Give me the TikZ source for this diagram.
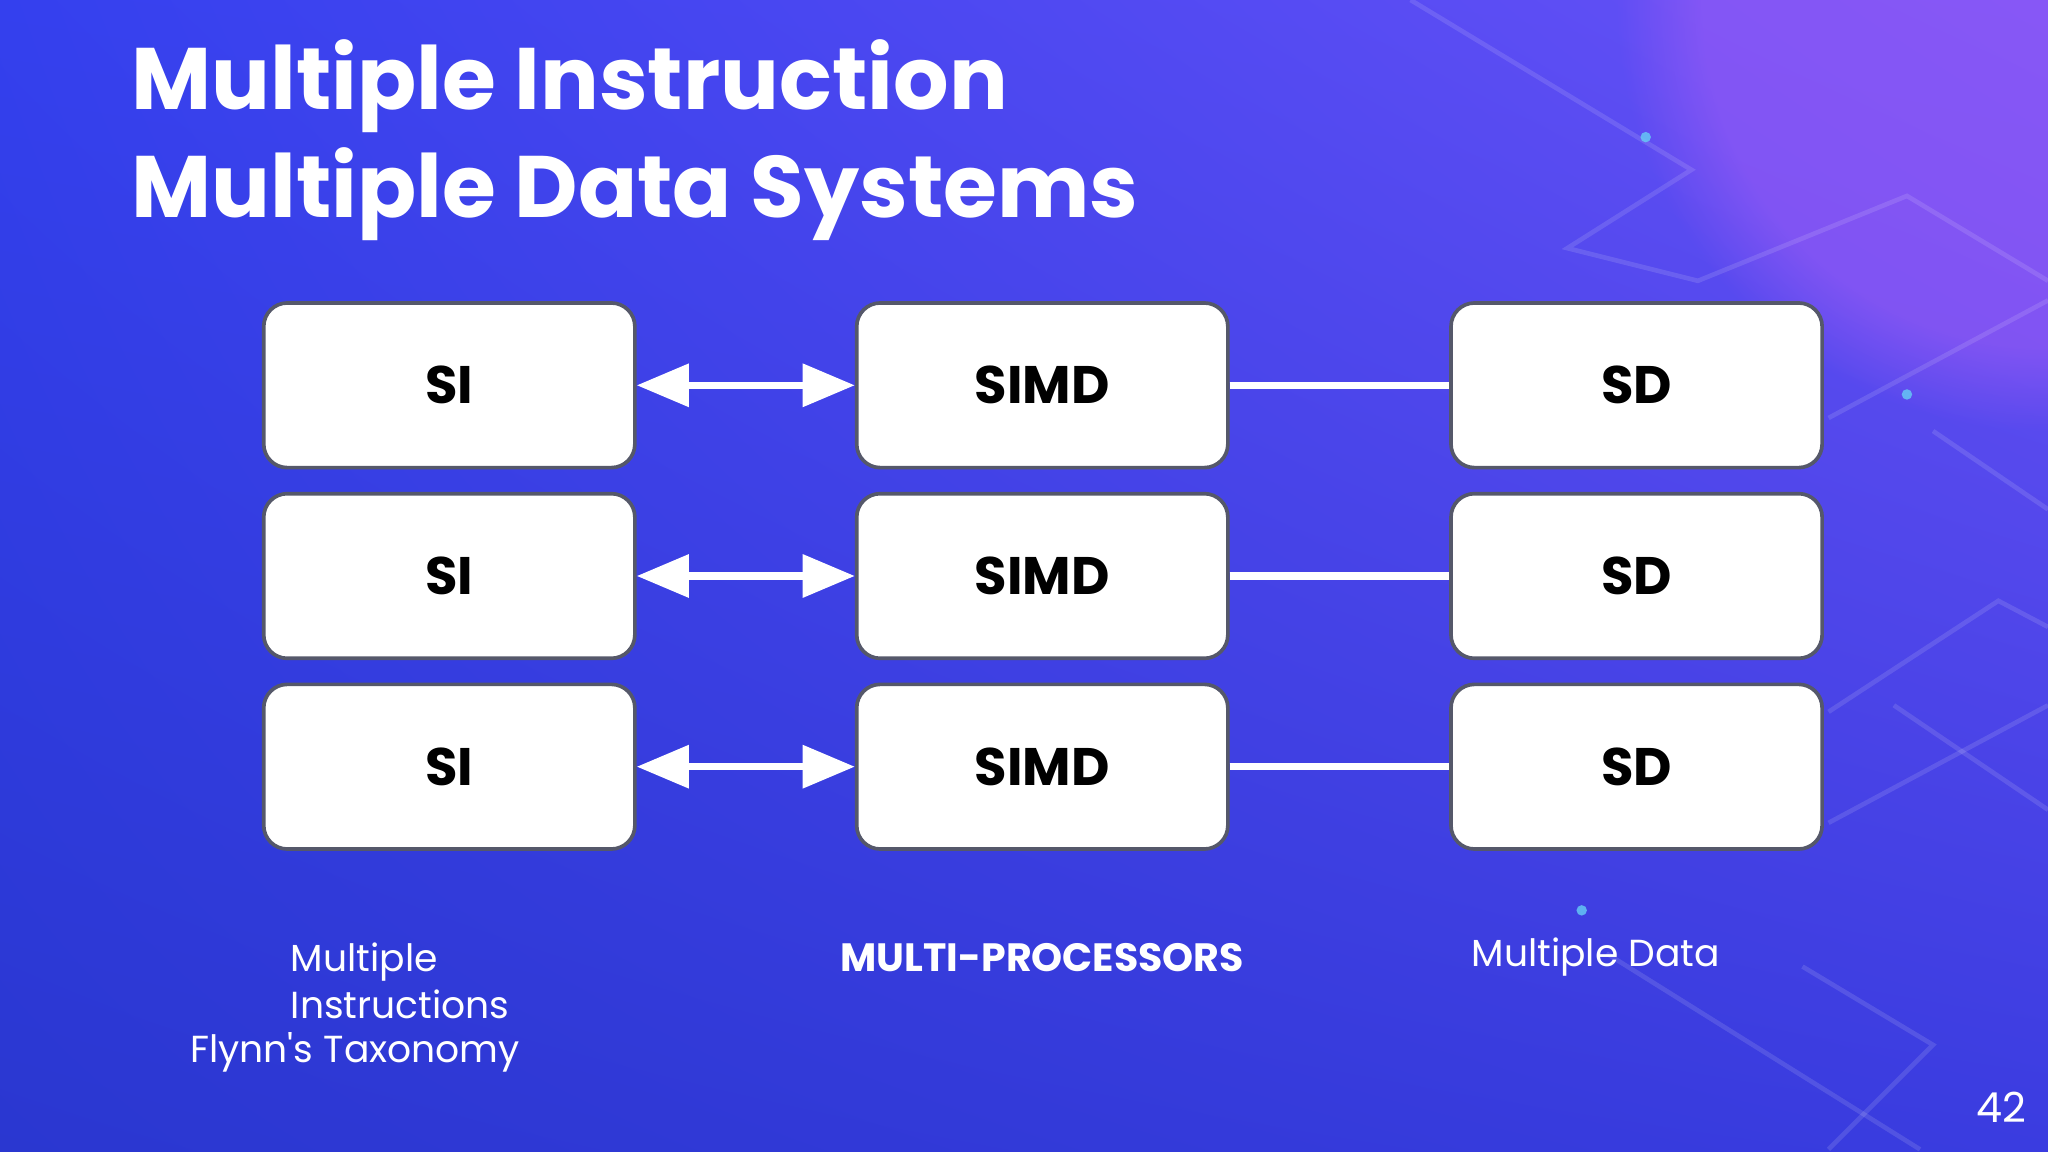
\documentclass[tikz,border=0pt]{standalone}
\usepackage{fontspec}
\setmainfont{Poppins}
\usetikzlibrary{arrows.meta,shadings,fadings}
\definecolor{bgA}{HTML}{2A37D0}
\definecolor{bgB}{HTML}{3440EE}
\definecolor{bgC}{HTML}{6A52F6}
\definecolor{bgD}{HTML}{3A3CE0}
\definecolor{purp}{HTML}{A05CF6}
\definecolor{boxline}{HTML}{55586A}
\begin{document}
\begin{tikzpicture}[x={(0.01cm,0)},y={(0,-0.01cm)},
  box/.style={draw=boxline,line width=0.8pt,fill=white,rounded corners=0.18cm,minimum width=2.84cm,minimum height=1.26cm,font=\fontsize{11.5}{14}\selectfont\bfseries,text=black},
  dbl/.style={draw=white,line width=1.6pt,{Triangle[length=0.4cm,width=0.32cm]}-{Triangle[length=0.4cm,width=0.32cm]}},
  lnk/.style={draw=white,line width=1.6pt},
  lab/.style={text=white,font=\fontsize{8.2}{10.3}\selectfont,inner sep=0pt}]
\useasboundingbox (0,0) rectangle (1568,882);
\shade[upper left=bgB,upper right=bgC,lower left=bgA,lower right=bgD] (0,0) rectangle (1568,882);
\begin{scope}
\clip (0,0) rectangle (1568,882);
\fill[purp,path fading=circle with fuzzy edge 20 percent,opacity=0.55] (1568,0) circle (330);
\end{scope}
% faint decoration
\begin{scope}[white,opacity=0.12,line width=1pt]
\draw (1080,0) -- (1295,130) -- (1200,190) -- (1300,215) -- (1460,150) -- (1568,215);
\draw (1400,320) -- (1568,230);
\draw (1480,330) -- (1568,390);
\draw (1400,545) -- (1530,460) -- (1568,480);
\draw (1400,630) -- (1568,540);
\draw (1450,540) -- (1568,620);
\draw (1230,730) -- (1470,880);
\draw (1380,740) -- (1480,800) -- (1400,880);
\end{scope}
\fill[cyan!60!white,opacity=0.8] (1260,105) circle (4);
\fill[cyan!60!white,opacity=0.8] (1460,302) circle (4);
\fill[cyan!60!white,opacity=0.8] (1211,697) circle (4);
\node[anchor=west,text=white,font=\fontsize{19}{23.5}\selectfont\bfseries,align=left,inner sep=0pt] (title) at (100,107) {Multiple Instruction\\Multiple Data Systems};
\foreach \r/\y in {1/295,2/441,3/587}{
  \node[box] (si\r) at (344,\y) {SI};
  \node[box] (simd\r) at (798,\y) {SIMD};
  \node[box] (sd\r) at (1253,\y) {SD};
  \draw[dbl] (si\r.east) -- (simd\r.west);
  \draw[lnk] (simd\r.east) -- (sd\r.west);
}
\node[lab,anchor=west,align=left] (mi) at (222,751) {Multiple\\Instructions};
\node[lab,anchor=west] (ft) at (145,806) {Flynn\textquotesingle s Taxonomy};
\node[lab,font=\fontsize{8.6}{11}\selectfont\bfseries] (mp) at (798,733) {MULTI-PROCESSORS};
\node[lab,anchor=west] (md) at (1126,733) {Multiple Data};
\node[lab,font=\fontsize{9}{11}\selectfont] (pg) at (1532,848) {42};
\end{tikzpicture}
\end{document}
